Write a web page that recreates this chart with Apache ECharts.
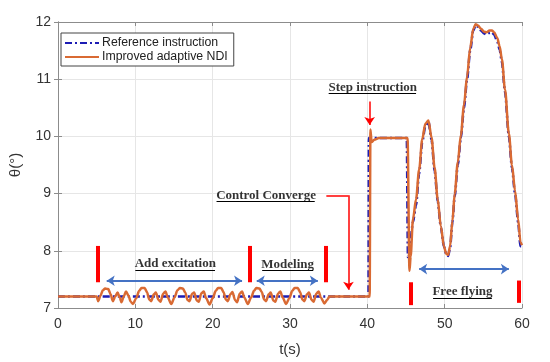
<!DOCTYPE html>
<html><head><meta charset="utf-8">
<script src="https://cdn.jsdelivr.net/npm/echarts@6/dist/echarts.min.js"></script>
<style>html,body{margin:0;padding:0;background:#fff}#c{width:550px;height:362px}</style>
</head><body><div id="c"></div>
<script>
// Reference instruction (blue dash-dot)
const refT = [0, 40.15, 40.2, 45.1, 45.25, 45.5, 45.9, 46.3, 46.7, 47.1, 47.5, 47.9, 48.3, 48.7, 49.1, 49.5, 49.9, 50.2, 50.45, 50.7, 51.0, 51.3, 51.7, 52.1, 52.5, 52.9, 53.3, 53.7, 54.0, 54.3, 54.7, 55.1, 55.4, 55.8, 56.1, 56.4, 56.8, 57.1, 57.4, 57.8, 58.3, 58.7, 59.1, 59.5, 59.8, 60];
const refY = [7.2, 7.2, 9.97, 9.97, 7.89, 8.1, 8.5, 8.8, 9.35, 9.9, 10.18, 10.26, 9.94, 9.4, 8.87, 8.42, 8.08, 7.94, 7.91, 8.05, 8.5, 8.95, 9.5, 9.98, 10.5, 11.0, 11.5, 11.85, 11.94, 11.92, 11.85, 11.8, 11.78, 11.81, 11.82, 11.78, 11.66, 11.52, 11.3, 10.78, 10.0, 9.45, 9.0, 8.5, 8.08, 8.08];

// Improved adaptive NDI (orange)
const ndiT = [0, 5.0, 5.2, 5.5, 5.8, 6.1, 6.5, 6.8, 7.1, 7.4, 7.7, 8.0, 8.2, 8.5, 8.8, 9.1, 9.4, 9.7,
  10.1, 10.5, 10.8, 11.2, 11.5, 11.8, 12.05, 12.4, 12.65, 13.0, 13.25, 13.6, 13.9, 14.2, 14.65,
  15.05, 15.45, 15.75, 16.15, 16.45, 16.75, 17.0, 17.35, 17.6, 17.95, 18.2, 18.55, 18.85, 19.15, 19.6,
  20.0, 20.4, 20.7, 21.1, 21.4, 21.7, 21.95, 22.3, 22.55, 22.9, 23.15, 23.5, 23.8, 24.1, 24.55,
  24.95, 25.35, 25.65, 26.05, 26.35, 26.65, 26.9, 27.25, 27.5, 27.85, 28.1, 28.45, 28.75, 29.05, 29.5,
  29.9, 30.3, 30.6, 31.0, 31.3, 31.6, 31.85, 32.2, 32.45, 32.8, 33.05, 33.4, 33.7, 34.0, 34.45, 34.8, 35.1,
  40.3, 40.4, 40.55, 40.9, 41.5, 45.2, 45.45, 45.6, 45.9, 46.3, 46.7, 47.1, 47.5, 47.9, 48.3, 48.7, 49.1, 49.5, 49.9, 50.2, 50.45, 50.7,
  51.0, 51.3, 51.7, 52.1, 52.5, 52.9, 53.3, 53.7, 54.0, 54.3, 54.7, 55.1, 55.4, 55.8, 56.1, 56.4, 56.8, 57.1, 57.4, 57.8, 58.3, 58.7, 59.1, 59.5, 59.8, 60];
const ndiY = [7.2, 7.2, 7.12, 7.22, 7.31, 7.34, 7.33, 7.24, 7.12, 7.2, 7.27, 7.18, 7.1, 7.2, 7.29, 7.22, 7.11, 7.07,
  7.17, 7.3, 7.35, 7.35, 7.28, 7.15, 7.12, 7.24, 7.27, 7.14, 7.11, 7.25, 7.29, 7.18, 7.07,
  7.18, 7.31, 7.35, 7.34, 7.27, 7.14, 7.12, 7.25, 7.27, 7.13, 7.11, 7.26, 7.29, 7.17, 7.06,
  7.17, 7.3, 7.35, 7.35, 7.28, 7.15, 7.12, 7.24, 7.28, 7.14, 7.1, 7.25, 7.29, 7.18, 7.07,
  7.18, 7.3, 7.35, 7.34, 7.28, 7.15, 7.12, 7.24, 7.27, 7.13, 7.11, 7.25, 7.29, 7.18, 7.07,
  7.17, 7.3, 7.35, 7.35, 7.28, 7.15, 7.12, 7.24, 7.27, 7.14, 7.11, 7.25, 7.29, 7.18, 7.08, 7.14, 7.2,
  7.2, 10.12, 9.9, 9.94, 9.97, 9.97, 7.65, 7.9, 8.55, 8.9, 9.42, 9.95, 10.22, 10.28, 9.98, 9.45, 8.9, 8.43, 8.08, 7.95, 7.93, 8.08,
  8.52, 9.0, 9.55, 10.03, 10.55, 11.05, 11.55, 11.88, 11.96, 11.94, 11.88, 11.83, 11.82, 11.85, 11.85, 11.82, 11.72, 11.58, 11.35, 10.82, 10.05, 9.5, 9.05, 8.55, 8.15, 8.1];

const xTicks = [0, 10, 20, 30, 40, 50, 60];
const yTicks = [7, 8, 9, 10, 11, 12];

// annotations (data coordinates)
const labelTexts = ['Add excitation', 'Modeling', 'Control Converge', 'Step instruction', 'Free flying'];
const labelX = [15.17, 29.7, 26.9, 40.7, 52.3];
const labelY = [7.78, 7.76, 8.97, 10.86, 7.28];
const underlineX0 = [10.0, 26.4, 20.5, 35.0, 48.5];
const underlineX1 = [20.3, 33.0, 33.2, 46.3, 56.1];
const underlineY = [7.665, 7.665, 8.86, 10.76, 7.17];
const barX = [5.1, 24.8, 34.6, 45.6, 59.6];
const barY0 = [7.45, 7.45, 7.45, 7.05, 7.09];
const barY1 = [8.085, 8.085, 8.085, 7.45, 7.48];
const spanX0 = [6.3, 25.7, 46.7];
const spanX1 = [23.8, 33.6, 58.3];
const spanY = [7.476, 7.476, 7.68];
const redArrows = [[[40.3, 10.61], [40.3, 10.2]], [[37.56, 8.97], [37.56, 7.32]]];
const redLinks = [[[34.7, 8.97], [37.56, 8.97]]];

const zip = (a, b) => a.map((v, i) => [v, b[i]]);

const chart = echarts.init(document.getElementById('c'), null, {renderer: 'canvas'});
const axisCommon = {
  type: 'value',
  axisLine: {show: true, lineStyle: {color: '#8c8c8c', width: 1}},
  axisTick: {show: true, inside: true, length: 4, lineStyle: {color: '#8c8c8c'}},
  splitLine: {show: false}
};
chart.setOption({
  animation: false,
  backgroundColor: '#fff',
  grid: {left: 54, right: 28, top: 22, bottom: 53, show: false},
  legend: {
    left: 61, top: 33, orient: 'vertical',
    data: ['Reference instruction', 'Improved adaptive NDI'],
    backgroundColor: '#fff', borderColor: '#444', borderWidth: 1,
    padding: [4, 6, 3, 3], itemGap: 2, itemWidth: 34, itemHeight: 14,
    itemStyle: {opacity: 0},
    textStyle: {fontFamily: 'Liberation Sans', fontSize: 12.3, color: '#222', padding: [0, 0, 0, -2]}
  },
  xAxis: [
    Object.assign({}, axisCommon, {
      min: 0, max: 60, interval: 10, position: 'bottom',
      name: 't(s)', nameLocation: 'middle', nameGap: 34,
      nameTextStyle: {fontFamily: 'Liberation Sans', fontSize: 15, color: '#333'},
      axisLabel: {fontFamily: 'Liberation Sans', fontSize: 14, color: '#333', margin: 9},
      splitLine: {show: true, lineStyle: {color: '#e6e6e6', width: 1}}
    }),
    Object.assign({}, axisCommon, {min: 0, max: 60, interval: 10, position: 'top', axisLabel: {show: false}})
  ],
  yAxis: [
    Object.assign({}, axisCommon, {
      min: 7, max: 12, interval: 1, position: 'left',
      name: 'θ(°)', nameLocation: 'middle', nameGap: 35,
      nameTextStyle: {fontFamily: 'Liberation Sans', fontSize: 15, color: '#333'},
      axisLabel: {fontFamily: 'Liberation Sans', fontSize: 14, color: '#333', margin: 7},
      splitLine: {show: true, lineStyle: {color: '#e6e6e6', width: 1}}
    }),
    Object.assign({}, axisCommon, {min: 7, max: 12, interval: 1, position: 'right', axisLabel: {show: false}})
  ],
  series: [
    {
      name: 'Reference instruction', type: 'line', data: zip(refT, refY),
      showSymbol: false, symbol: 'none', smooth: 0.25, smoothMonotone: 'x', z: 3,
      lineStyle: {color: '#1c1cb4', width: 2.5, type: [7, 3, 2, 3]},
      itemStyle: {color: '#1c1cb4'}
    },
    {
      name: 'Improved adaptive NDI', type: 'line', data: zip(ndiT, ndiY),
      showSymbol: false, symbol: 'none', smooth: 0.3, smoothMonotone: 'x', z: 4,
      lineStyle: {color: '#d96a33', width: 2.5},
      itemStyle: {color: '#d96a33'}
    },
    {
      type: 'lines', coordinateSystem: 'cartesian2d', silent: true, z: 5,
      lineStyle: {color: '#ff0000', width: 4, opacity: 1},
      symbol: ['none', 'none'],
      data: barX.map((x, i) => ({coords: [[x, barY0[i]], [x, barY1[i]]]}))
    },
    {
      type: 'lines', coordinateSystem: 'cartesian2d', silent: true, z: 5,
      lineStyle: {color: '#4472c4', width: 2, opacity: 1},
      symbol: ['arrow', 'arrow'], symbolSize: 8,
      data: spanX0.map((x, i) => ({coords: [[x, spanY[i]], [spanX1[i], spanY[i]]]}))
    },
    {
      type: 'lines', coordinateSystem: 'cartesian2d', silent: true, z: 5,
      lineStyle: {color: '#ff0000', width: 1.5, opacity: 1},
      symbol: ['none', 'arrow'], symbolSize: 8,
      data: redArrows.map(c => ({coords: c}))
    },
    {
      type: 'lines', coordinateSystem: 'cartesian2d', silent: true, z: 5,
      lineStyle: {color: '#ff0000', width: 1.5, opacity: 1},
      symbol: ['none', 'none'],
      data: redLinks.map(c => ({coords: c}))
    },
    {
      type: 'lines', coordinateSystem: 'cartesian2d', silent: true, z: 5,
      lineStyle: {color: '#000', width: 1, opacity: 1},
      symbol: ['none', 'none'],
      data: underlineX0.map((x, i) => ({coords: [[x, underlineY[i]], [underlineX1[i], underlineY[i]]]}))
    },
    {
      type: 'scatter', silent: true, symbolSize: 0, z: 6,
      data: labelTexts.map((t, i) => ({name: t, value: [labelX[i], labelY[i]]})),
      label: {
        show: true, position: 'inside', formatter: p => p.name,
        fontFamily: 'Liberation Serif', fontWeight: 'bold', fontSize: 13, color: '#000'
      }
    }
  ]
});
</script>
</body></html>
